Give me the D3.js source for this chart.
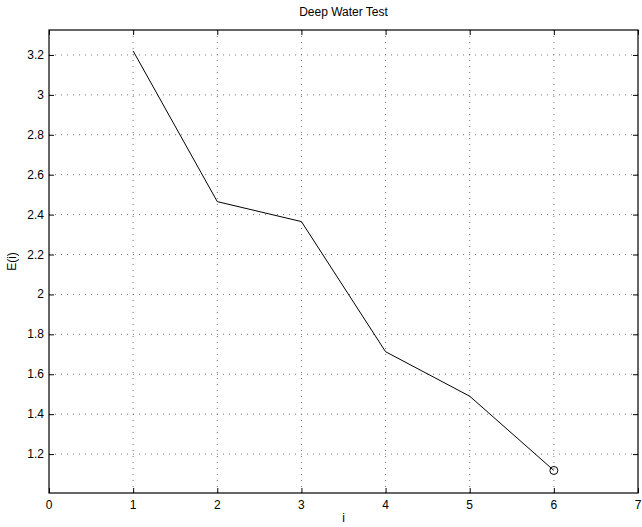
<!DOCTYPE html>
<html>
<head>
<meta charset="utf-8">
<script src="https://cdn.jsdelivr.net/npm/d3@7"></script>
<style>
  body { margin: 0; background: #fff; }
  svg { display: block; font-family: "Liberation Sans", Arial, sans-serif; }
</style>
</head>
<body>
<svg id="chart" width="642" height="527"></svg>
<script>
// values
const iters = [1, 2, 3, 4, 5, 6];
const energy = [3.22, 2.465, 2.365, 1.713, 1.49, 1.118];
const xTicks = [0, 1, 2, 3, 4, 5, 6, 7];
const yTicks = [1.2, 1.4, 1.6, 1.8, 2, 2.2, 2.4, 2.6, 2.8, 3, 3.2];

const svg = d3.select("#chart");
const pLeft = 49, pRight = 638, pTop = 30, pBottom = 493;

let x = d3.scaleLinear().domain([0, 7]).range([pLeft, pRight]);
let y = d3.scaleLinear().domain([1.005, 3.325]).range([pBottom, pTop]);

// dotted grid
svg.append("g").selectAll("line")
  .data(xTicks.slice(1, -1))
  .join("line")
  .attr("x1", d => x(d)).attr("x2", d => x(d))
  .attr("y1", pTop).attr("y2", pBottom)
  .attr("stroke", "#555").attr("stroke-width", 0.8)
  .attr("stroke-dasharray", "1,5");

svg.append("g").selectAll("line")
  .data(yTicks)
  .join("line")
  .attr("x1", pLeft).attr("x2", pRight)
  .attr("y1", d => y(d)).attr("y2", d => y(d))
  .attr("stroke", "#555").attr("stroke-width", 0.8)
  .attr("stroke-dasharray", "1,5");

// axes, ticks inward like matlab
const tk = 5;
svg.append("g").attr("transform", "translate(0," + pBottom + ")")
  .call(d3.axisTop(x).tickValues(xTicks).tickSize(tk).tickFormat(""))
  .call(g => g.select(".domain").remove());
svg.append("g").attr("transform", "translate(0," + pTop + ")")
  .call(d3.axisBottom(x).tickValues(xTicks).tickSize(tk).tickFormat(""))
  .call(g => g.select(".domain").remove());
svg.append("g").attr("transform", "translate(" + pLeft + ",0)")
  .call(d3.axisRight(y).tickValues(yTicks).tickSize(tk).tickFormat(""))
  .call(g => g.select(".domain").remove());
svg.append("g").attr("transform", "translate(" + pRight + ",0)")
  .call(d3.axisLeft(y).tickValues(yTicks).tickSize(tk).tickFormat(""))
  .call(g => g.select(".domain").remove());

svg.append("rect")
  .attr("x", pLeft).attr("y", pTop)
  .attr("width", pRight - pLeft).attr("height", pBottom - pTop)
  .attr("fill", "none").attr("stroke", "#000").attr("stroke-width", 1.2);

// tick labels
svg.append("g").selectAll("text")
  .data(xTicks)
  .join("text")
  .attr("x", d => x(d)).attr("y", pBottom + 16)
  .attr("text-anchor", "middle")
  .attr("font-size", 12)
  .text(d => d);

svg.append("g").selectAll("text")
  .data(yTicks)
  .join("text")
  .attr("x", pLeft - 5).attr("y", d => y(d) + 4)
  .attr("text-anchor", "end")
  .attr("font-size", 12)
  .text(d => d);

// line
svg.append("path")
  .datum(iters.map((d, i) => [d, energy[i]]))
  .attr("fill", "none").attr("stroke", "#000").attr("stroke-width", 1)
  .attr("d", d3.line().x(d => x(d[0])).y(d => y(d[1])));

// last iterate marker
svg.append("circle")
  .attr("cx", x(iters[iters.length - 1]))
  .attr("cy", y(energy[energy.length - 1]))
  .attr("r", 4)
  .attr("fill", "none").attr("stroke", "#000").attr("stroke-width", 1);

// titles
svg.append("text").attr("x", (pLeft + pRight) / 2).attr("y", 16)
  .attr("text-anchor", "middle").attr("font-size", 12).text("Deep Water Test");
svg.append("text").attr("x", (pLeft + pRight) / 2).attr("y", 522)
  .attr("text-anchor", "middle").attr("font-size", 12).text("i");
svg.append("text")
  .attr("transform", "translate(16," + (pTop + pBottom) / 2 + ") rotate(-90)")
  .attr("text-anchor", "middle").attr("font-size", 12).text("E(i)");
</script>
</body>
</html>
